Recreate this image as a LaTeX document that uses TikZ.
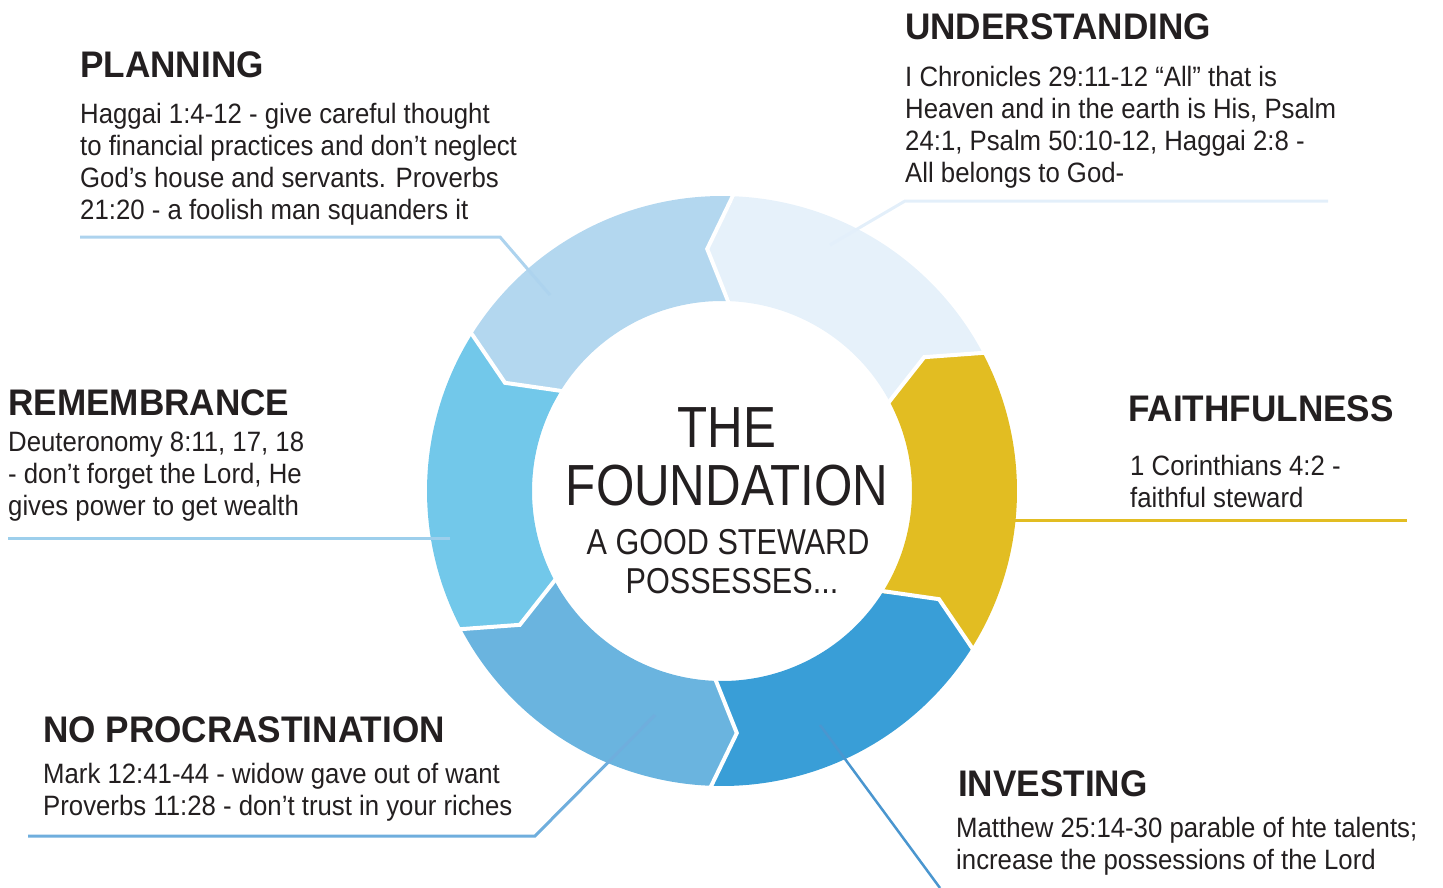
\documentclass[tikz,border=0pt]{standalone}
\usepackage{fontspec}
\setmainfont{Liberation Sans}
\newfontfamily\bodyf{Liberation Sans}[FakeStretch=0.92]
\newfontfamily\centf{Liberation Sans}[FakeStretch=0.85]
\newfontfamily\headf{Liberation Sans}[FakeStretch=0.95]
\definecolor{txt}{HTML}{231F20}
\definecolor{cU}{HTML}{E6F1FA}
\definecolor{cP}{HTML}{B3D7EF}
\definecolor{cR}{HTML}{72C8EA}
\definecolor{cN}{HTML}{6AB4DF}
\definecolor{cI}{HTML}{399ED7}
\definecolor{cF}{HTML}{E2BD22}
\definecolor{lP}{HTML}{ADD3EE}
\definecolor{lU}{HTML}{E3EFFA}
\definecolor{lR}{HTML}{9DCFEC}
\definecolor{lN}{HTML}{6FAEDD}
\definecolor{lI}{HTML}{4A96CF}
\begin{document}
\begin{tikzpicture}[x=1pt,y=-1pt,
  head/.style={anchor=base west,inner sep=0,text=txt,font=\headf\bfseries\fontsize{37}{37}\selectfont},
  body/.style={anchor=north west,inner sep=0,align=left,text=txt,font=\bodyf\fontsize{28}{32}\selectfont},
  leader/.style={line width=3pt}]
\useasboundingbox (0,0) rectangle (1443,888);
% ring
\begin{scope}[shift={(722,491)},yscale=-1]
  \foreach \s/\c in {27.5/cU,87.5/cP,147.5/cR,207.5/cN,267.5/cI,327.5/cF}{
    \fill[\c] (\s:295) arc[start angle=\s,end angle=\s+60,radius=295]
      -- ({\s+66}:242.5) -- ({\s+60}:190)
      arc[start angle=\s+60,end angle=\s,radius=190]
      -- ({\s+6}:242.5) -- cycle;
  }
  \foreach \s in {27.5,87.5,147.5,207.5,267.5,327.5}{
    \draw[white,line width=4pt,line join=miter] (\s:300) -- ({\s+6}:242.5) -- (\s:185);
  }
\end{scope}
% centre text
\node[anchor=base,inner sep=0,text=txt,font=\centf\fontsize{58}{58}\selectfont] (the) at (727,447) {THE};
\node[anchor=base,inner sep=0,text=txt,font=\centf\fontsize{58}{58}\selectfont] (found) at (727,505) {FOUNDATION};
\node[anchor=base,inner sep=0,text=txt,font=\centf\fontsize{36}{36}\selectfont] (good) at (728,554) {A GOOD STEWARD};
\node[anchor=base,inner sep=0,text=txt,font=\centf\fontsize{36}{36}\selectfont] (poss) at (732,593) {POSSESSES...};
% planning
\node[head] (planH) at (80,78) {PLANNING};
\node[body] (planB) at (80,103) {Haggai 1:4-12 - give careful thought\\to financial practices and don’t neglect\\God’s house and servants. Proverbs\\21:20 - a foolish man squanders it};
% understanding
\node[head] (undH) at (905,40) {UNDERSTANDING};
\node[body] (undB) at (905,66) {I Chronicles 29:11-12 “All” that is\\Heaven and in the earth is His, Psalm\\24:1, Psalm 50:10-12, Haggai 2:8 -\\All belongs to God-};
% remembrance
\node[head] (remH) at (8,415) {REMEMBRANCE};
\node[body] (remB) at (8,432) {Deuteronomy 8:11, 17, 18\\- don’t forget the Lord, He\\gives power to get wealth};
% faithfulness
\node[head] (faiH) at (1128,421) {FAITHFULNESS};
\node[body] (faiB) at (1130,455) {1 Corinthians 4:2 -\\faithful steward};
% no procrastination
\node[head] (nopH) at (43,742) {NO PROCRASTINATION};
\node[body] (nopB) at (43,763) {Mark 12:41-44 - widow gave out of want\\Proverbs 11:28 - don’t trust in your riches};
% investing
\node[head] (invH) at (958,796) {INVESTING};
\node[body] (invB) at (956,817) {Matthew 25:14-30 parable of hte talents;\\increase the possessions of the Lord};
% leaders
\coordinate (p1) at (80,237); \coordinate (p2) at (500,237); \coordinate (p3) at (550,295);
\draw[leader,lP] (p1) -- (p2) -- (p3);
\coordinate (u1) at (1328,201); \coordinate (u2) at (905,201); \coordinate (u3) at (830,245);
\draw[leader,lU] (u1) -- (u2) -- (u3);
\coordinate (r1) at (8,538); \coordinate (r2) at (450,538);
\draw[leader,lR] (r1) -- (r2);
\coordinate (f1) at (1015,520); \coordinate (f2) at (1407,520);
\draw[leader,cF] (f1) -- (f2);
\coordinate (n1) at (28,836); \coordinate (n2) at (535,836); \coordinate (n3) at (655,715);
\draw[leader,lN] (n1) -- (n2) -- (n3);
\coordinate (i1) at (820,725); \coordinate (i2) at (940,888);
\draw[leader,lI,line width=2.5pt] (i1) -- (i2);
\end{tikzpicture}
\end{document}
